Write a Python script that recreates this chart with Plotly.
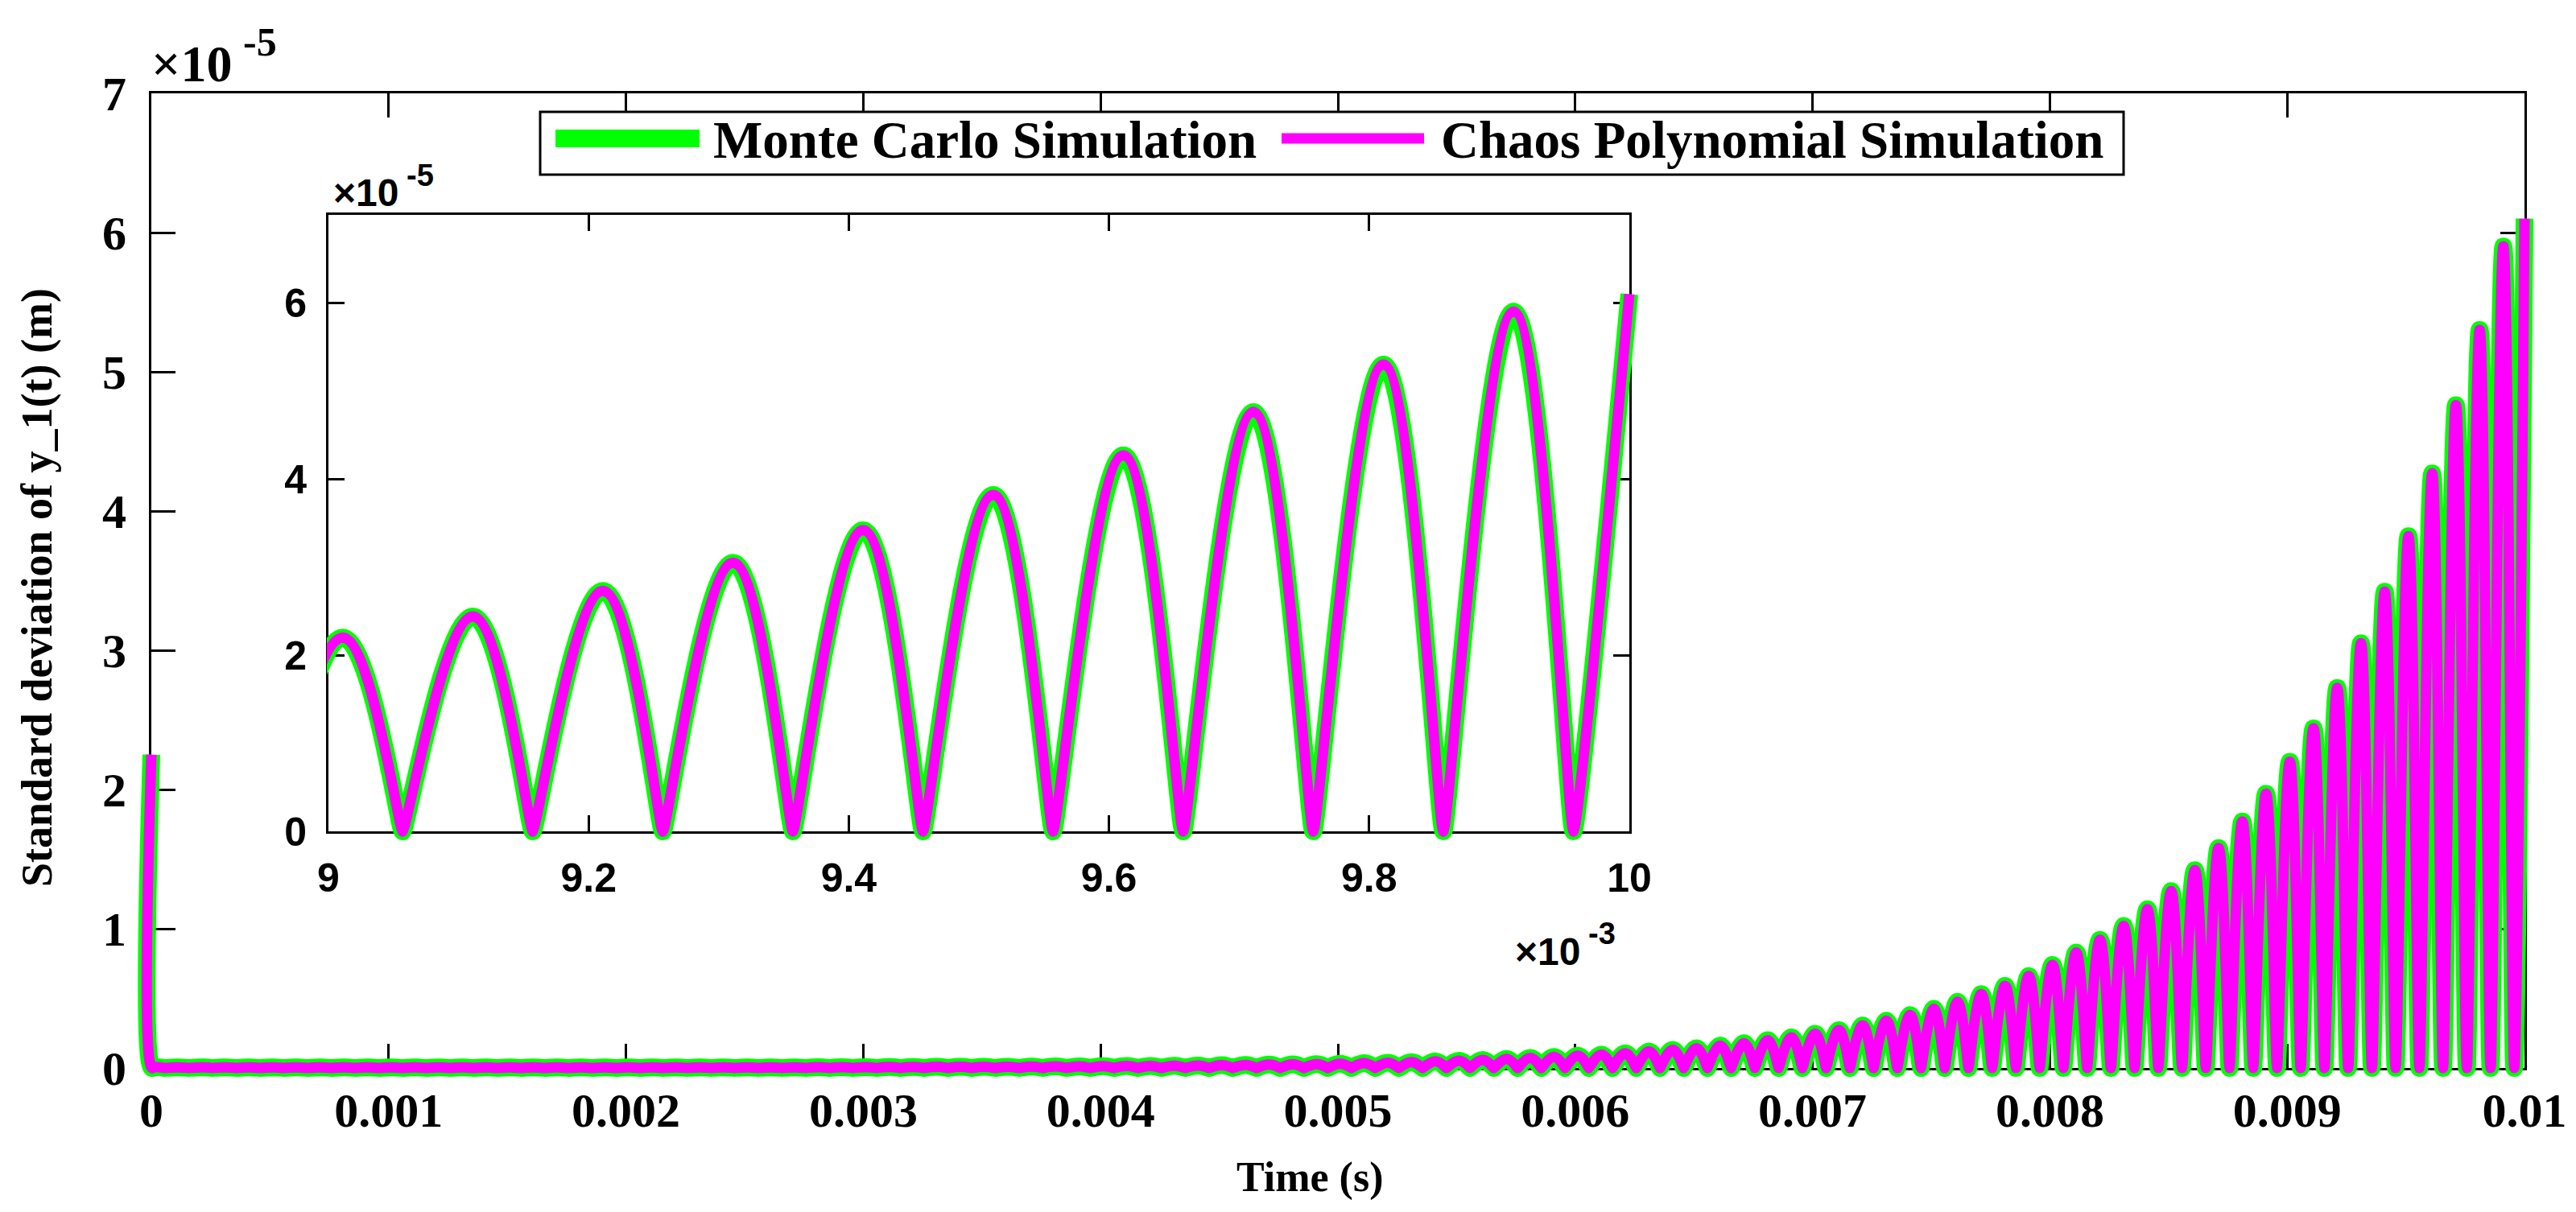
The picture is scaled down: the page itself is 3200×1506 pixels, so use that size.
import plotly.graph_objects as go

# ------------------------------------------------------------------ data
# Standard deviation of y_1(t) in units of 1e-5 m.
spike_times = [0.0, 0.000002]          # s  (value at t=0 and the drop right after)
spike_values = [2.25, 0.0]

# amplitude of every crest of the oscillation (100 crests between 0 and 0.01 s)
crest_amp_mc = [
    0.006, 0.005, 0.005, 0.005, 0.004, 0.004, 0.004, 0.004, 0.004, 0.004,
    0.004, 0.004, 0.004, 0.004, 0.004, 0.004, 0.004, 0.004, 0.004, 0.004,
    0.004, 0.004, 0.005, 0.005, 0.005, 0.005, 0.005, 0.005, 0.006, 0.006,
    0.006, 0.007, 0.007, 0.008, 0.008, 0.009, 0.009, 0.010, 0.011, 0.012,
    0.013, 0.014, 0.015, 0.016, 0.018, 0.020, 0.022, 0.024, 0.026, 0.028,
    0.031, 0.034, 0.038, 0.042, 0.047, 0.052, 0.058, 0.065, 0.072, 0.080,
    0.088, 0.096, 0.105, 0.118, 0.130, 0.142, 0.160, 0.178, 0.200, 0.220,
    0.245, 0.272, 0.305, 0.340, 0.380, 0.425, 0.475, 0.530, 0.590, 0.660,
    0.740, 0.830, 0.920, 1.020, 1.140, 1.270, 1.420, 1.580, 1.770, 1.970,
    2.200, 2.440, 2.730, 3.050, 3.420, 3.820, 4.270, 4.760, 5.300, 5.900,
]
crest_amp_pc = list(crest_amp_mc)       # both curves coincide in the figure
end_time = 0.01
end_value_mc = 6.1
end_value_pc = 6.1

period = 1.0e-4          # s, spacing of the lobes
crest_phase = 0.11       # crest position inside a period
trough_phase = 0.57      # zero position inside a period
trough_half = 1.0e-7     # s, tiny split of the zero point (gives the sharp V)

x_ticks_main = [0, 0.001, 0.002, 0.003, 0.004, 0.005, 0.006, 0.007, 0.008, 0.009, 0.01]
x_ticktext_main = ["0", "0.001", "0.002", "0.003", "0.004", "0.005",
                   "0.006", "0.007", "0.008", "0.009", "0.01"]
y_ticks_main = [0, 1, 2, 3, 4, 5, 6, 7]
x_ticks_inset = [9, 9.2, 9.4, 9.6, 9.8, 10]
x_ticktext_inset = ["9", "9.2", "9.4", "9.6", "9.8", "10"]
y_ticks_inset = [0, 2, 4, 6]

name_mc = "Monte Carlo Simulation"
name_pc = "Chaos Polynomial Simulation"
color_mc = "#00FF00"
color_pc = "#FF00FF"


def build_series(crests, end_value):
    t = list(spike_times)
    v = list(spike_values)
    for k, a in enumerate(crests):
        t.append((k + crest_phase) * period)
        v.append(a)
        tz = (k + trough_phase) * period
        if tz - trough_half < end_time:
            t += [tz - trough_half, tz + trough_half]
            v += [0.0, 0.0]
    t.append(end_time)
    v.append(end_value)
    return t, v


t_mc, v_mc = build_series(crest_amp_mc, end_value_mc)
t_pc, v_pc = build_series(crest_amp_pc, end_value_pc)

# ------------------------------------------------------------------ layout geometry (px)
W, H = 3200, 1506
MAIN = dict(x0=188, x1=3136, y0=116, y1=1327)     # visible main box
INS = dict(x0=408, x1=2024, y0=267, y1=1033)      # visible inset box
PAD = 40                                          # clip padding of main data layer
IPAD_L, IPAD_R, IPAD_V = 2, 30, 30                # clip padding of inset data layer
main_xr = [0, 0.01]
main_yr = [0, 7]
ins_xr = [9, 10]
ins_yr = [0, 7]


def dom_x(a, b):
    return [a / W, b / W]


def dom_y(top, bottom):
    return [1 - bottom / H, 1 - top / H]


def ext_x(r, p0, p1, pad_l, pad_r):
    per = (r[1] - r[0]) / (p1 - p0)
    return [r[0] - pad_l * per, r[1] + pad_r * per]


def ext_y(r, top, bottom, pad):
    per = (r[1] - r[0]) / (bottom - top)
    return [r[0] - pad * per, r[1] + pad * per]


SERIF = "Liberation Serif, Times New Roman, serif"
SANS = "Liberation Sans, Arial, sans-serif"
TICK_SERIF = dict(family=SERIF, size=60, color="black", weight="bold")
TICK_SANS = dict(family=SANS, size=50, color="black", weight="bold")

fig = go.Figure()

# empty traces so that the visible axes subplots exist
fig.add_trace(go.Scatter(x=[None], y=[None], xaxis="x", yaxis="y", showlegend=False,
                         hoverinfo="skip"))
fig.add_trace(go.Scatter(x=[None], y=[None], xaxis="x2", yaxis="y2", showlegend=False,
                         hoverinfo="skip"))

# main data (drawn on a hidden, slightly larger overlay so thick lines are not clipped)
for t, v, name, col, w in [(t_mc, v_mc, name_mc, color_mc, 22),
                           (t_pc, v_pc, name_pc, color_pc, 13)]:
    fig.add_trace(go.Scatter(x=t, y=v, mode="lines", name=name, showlegend=False,
                             line=dict(color=col, width=w, shape="spline", smoothing=1.3,
                                       simplify=False),
                             xaxis="x3", yaxis="y3", hoverinfo="skip"))
# inset data (time in ms)
for t, v, name, col, w in [(t_mc, v_mc, name_mc, color_mc, 22),
                           (t_pc, v_pc, name_pc, color_pc, 13)]:
    fig.add_trace(go.Scatter(x=[ti * 1e3 for ti in t], y=v, mode="lines", name=name,
                             showlegend=False,
                             line=dict(color=col, width=w, shape="spline", smoothing=1.3,
                                       simplify=False),
                             xaxis="x4", yaxis="y4", hoverinfo="skip"))

axis_common = dict(showline=True, linecolor="black", linewidth=3, mirror="allticks",
                   ticks="inside", tickcolor="black", tickwidth=3, showgrid=False,
                   zeroline=False, fixedrange=True, automargin=False)
hidden = dict(visible=False, fixedrange=True, automargin=False, showgrid=False,
              zeroline=False)

fig.update_layout(
    template="none",
    width=W, height=H, margin=dict(l=0, r=0, t=0, b=0, autoexpand=False),
    paper_bgcolor="white", plot_bgcolor="rgba(0,0,0,0)", showlegend=False,
    xaxis=dict(domain=dom_x(MAIN["x0"], MAIN["x1"]), range=main_xr, anchor="y",
               tickvals=x_ticks_main, ticktext=x_ticktext_main, ticklen=30,
               tickfont=TICK_SERIF, ticklabelstandoff=-2, **axis_common),
    yaxis=dict(domain=dom_y(MAIN["y0"], MAIN["y1"]), range=main_yr, anchor="x",
               tickvals=y_ticks_main, ticklen=30, tickfont=TICK_SERIF,
               ticklabelstandoff=16, **axis_common),
    xaxis2=dict(domain=dom_x(INS["x0"], INS["x1"]), range=ins_xr, anchor="y2",
                tickvals=x_ticks_inset, ticktext=x_ticktext_inset, ticklen=20,
                tickfont=TICK_SANS, ticklabelstandoff=12, **axis_common),
    yaxis2=dict(domain=dom_y(INS["y0"], INS["y1"]), range=ins_yr, anchor="x2",
                tickvals=y_ticks_inset, ticklen=20, tickfont=TICK_SANS,
                ticklabelstandoff=14, **axis_common),
    xaxis3=dict(domain=dom_x(MAIN["x0"] - PAD, MAIN["x1"] + PAD),
                range=ext_x(main_xr, MAIN["x0"], MAIN["x1"], PAD, PAD), anchor="y3",
                **hidden),
    yaxis3=dict(domain=dom_y(MAIN["y0"] - PAD, MAIN["y1"] + PAD),
                range=ext_y(main_yr, MAIN["y0"], MAIN["y1"], PAD), anchor="x3", **hidden),
    xaxis4=dict(domain=dom_x(INS["x0"] - IPAD_L, INS["x1"] + IPAD_R),
                range=ext_x(ins_xr, INS["x0"], INS["x1"], IPAD_L, IPAD_R), anchor="y4",
                **hidden),
    yaxis4=dict(domain=dom_y(INS["y0"] - IPAD_V, INS["y1"] + IPAD_V),
                range=ext_y(ins_yr, INS["y0"], INS["y1"], IPAD_V), anchor="x4", **hidden),
)

# ------------------------------------------------------------------ legend (drawn by hand)
LEG = dict(x0=671, x1=2638, y0=139, y1=217, yc=172)
shapes = [
    dict(type="rect", xref="paper", yref="paper",
         x0=LEG["x0"] / W, x1=LEG["x1"] / W, y0=1 - LEG["y1"] / H, y1=1 - LEG["y0"] / H,
         line=dict(color="black", width=3), fillcolor="white", layer="above"),
    dict(type="line", xref="paper", yref="paper", x0=690 / W, x1=869 / W,
         y0=1 - LEG["yc"] / H, y1=1 - LEG["yc"] / H,
         line=dict(color=color_mc, width=22), layer="above"),
    dict(type="line", xref="paper", yref="paper", x0=1592 / W, x1=1769 / W,
         y0=1 - LEG["yc"] / H, y1=1 - LEG["yc"] / H,
         line=dict(color=color_pc, width=13), layer="above"),
]
fig.update_layout(shapes=shapes)

ann = []


def add_text(text, px, py, font, xanchor="left", yanchor="middle", angle=0):
    ann.append(dict(text=text, x=px / W, y=1 - py / H, xref="paper", yref="paper",
                    xanchor=xanchor, yanchor=yanchor, showarrow=False, font=font,
                    textangle=angle))


LEGFONT = dict(family=SERIF, size=65, color="black", weight="bold")
add_text(name_mc, 884, LEG["yc"] + 2, LEGFONT)
add_text(name_pc, 1788, LEG["yc"] + 2, LEGFONT)

add_text("Time (s)", 1627, 1463, dict(family=SERIF, size=52, color="black", weight="bold"),
         xanchor="center")
add_text("Standard deviation of y_1(t) (m)", 46, 730,
         dict(family=SERIF, size=54, color="black", weight="bold"),
         xanchor="center", angle=-90)

# exponent labels ("x10" and the exponent drawn as two pieces)
add_text("×10", 186, 80, dict(family=SERIF, size=64, color="black", weight="bold"))
add_text("-5", 300, 52, dict(family=SERIF, size=50, color="black", weight="bold"))
add_text("×10", 412, 240, dict(family=SANS, size=48, color="black", weight="bold"))
add_text("-5", 503, 218, dict(family=SANS, size=38, color="black", weight="bold"))
add_text("×10", 1880, 1182, dict(family=SANS, size=48, color="black", weight="bold"))
add_text("-3", 1971, 1160, dict(family=SANS, size=38, color="black", weight="bold"))
fig.update_layout(annotations=ann)

fig.write_html("out.html")
